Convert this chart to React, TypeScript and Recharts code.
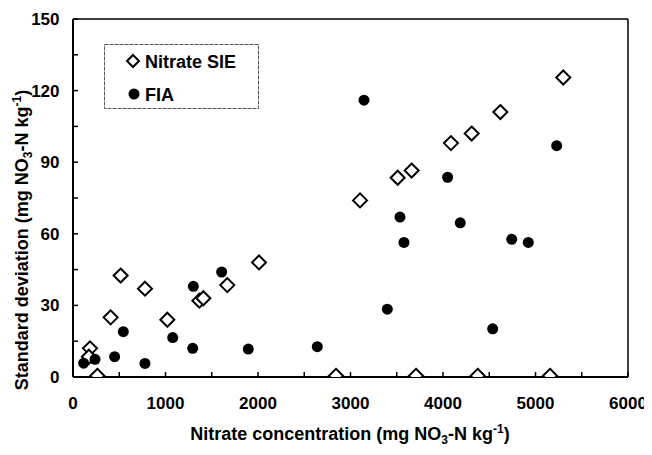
import React from 'react';
import { ScatterChart, Scatter, XAxis, YAxis, ReferenceLine, Legend } from 'recharts';

const FONT = '"Liberation Sans", Arial, Helvetica, sans-serif';

const seriesNames = ['Nitrate SIE', 'FIA'];

const nitrateSIE = [
  { x: 184, y: 12 },
  { x: 172, y: 8.5 },
  { x: 263, y: 0.5 },
  { x: 407, y: 25 },
  { x: 515, y: 42.5 },
  { x: 778, y: 37 },
  { x: 1020, y: 24 },
  { x: 1366, y: 32 },
  { x: 1409, y: 33 },
  { x: 1668, y: 38.5 },
  { x: 2011, y: 48 },
  { x: 2843, y: 0.5 },
  { x: 3103, y: 74 },
  { x: 3510, y: 83.5 },
  { x: 3661, y: 86.5 },
  { x: 3708, y: 0.5 },
  { x: 4086, y: 98 },
  { x: 4310, y: 102 },
  { x: 4375, y: 0.5 },
  { x: 4620, y: 111 },
  { x: 5157, y: 0.5 },
  { x: 5300, y: 125.5 },
];

const fia = [
  { x: 115, y: 5.8 },
  { x: 238, y: 7.4 },
  { x: 450, y: 8.5 },
  { x: 544, y: 19 },
  { x: 778, y: 5.7 },
  { x: 1078, y: 16.5 },
  { x: 1294, y: 12 },
  { x: 1301, y: 38 },
  { x: 1607, y: 44 },
  { x: 1895, y: 11.7 },
  { x: 2641, y: 12.7 },
  { x: 3146, y: 116 },
  { x: 3398, y: 28.4 },
  { x: 3535, y: 67 },
  { x: 3578, y: 56.4 },
  { x: 4050, y: 83.7 },
  { x: 4187, y: 64.6 },
  { x: 4537, y: 20.2 },
  { x: 4743, y: 57.7 },
  { x: 4922, y: 56.4 },
  { x: 5229, y: 96.9 },
];

const xTicks = [0, 500, 1000, 1500, 2000, 2500, 3000, 3500, 4000, 4500, 5000, 5500, 6000];
const yTicks = [0, 15, 30, 45, 60, 75, 90, 105, 120, 135, 150];
const xLabelStep = 1000;
const yLabelStep = 30;

const Diamond = (props: any) => {
  const { cx, cy } = props;
  if (cx == null || cy == null) return null;
  const r = 7;
  return (
    <path
      d={`M${cx},${cy - r}L${cx + r},${cy}L${cx},${cy + r}L${cx - r},${cy}Z`}
      fill="#fff"
      stroke="#000"
      strokeWidth={2}
    />
  );
};

const Dot = (props: any) => {
  const { cx, cy } = props;
  if (cx == null || cy == null) return null;
  return <circle cx={cx} cy={cy} r={5.5} fill="#000" />;
};

const XTick = (props: any) => {
  const { x, y, payload } = props;
  const v = payload.value;
  return (
    <g>
      <line x1={x} x2={x} y1={y} y2={y - 5} stroke="#000" strokeWidth={1.5} />
      {v % xLabelStep === 0 && (
        <text x={x} y={y + 32} textAnchor="middle" fontFamily={FONT} fontWeight="bold" fontSize={17} fill="#000">
          {v}
        </text>
      )}
    </g>
  );
};

const YTick = (props: any) => {
  const { x, y, payload } = props;
  const v = payload.value;
  return (
    <g>
      <line x1={x} x2={x + 5} y1={y} y2={y} stroke="#000" strokeWidth={1.5} />
      {v % yLabelStep === 0 && (
        <text x={x - 13.5} y={y + 6} textAnchor="end" fontFamily={FONT} fontWeight="bold" fontSize={17} fill="#000">
          {v}
        </text>
      )}
    </g>
  );
};

const XTitle = () => (
  <text x={342} y={432} textAnchor="middle" fontFamily={FONT} fontWeight="bold" fontSize={18} fill="#000">
    <tspan>Nitrate concentration (mg NO</tspan>
    <tspan fontSize={12} dy={4}>3</tspan>
    <tspan dy={-4}>-N kg</tspan>
    <tspan fontSize={12} dy={-7}>-1</tspan>
    <tspan dy={7}>)</tspan>
  </text>
);

const YTitle = () => (
  <text
    x={20}
    y={232}
    transform="rotate(-90, 20, 232)"
    textAnchor="middle"
    fontFamily={FONT}
    fontWeight="bold"
    fontSize={18}
    fill="#000"
  >
    <tspan>Standard deviation (mg NO</tspan>
    <tspan fontSize={12} dy={4}>3</tspan>
    <tspan dy={-4}>-N kg</tspan>
    <tspan fontSize={12} dy={-7}>-1</tspan>
    <tspan dy={7}>)</tspan>
  </text>
);

const LegendBox = () => (
  <svg width={155} height={65} style={{ display: 'block' }}>
    <rect x={0.5} y={0.5} width={154} height={64} fill="#fff" stroke="#555" strokeWidth={1} strokeDasharray="4 1" />
    <path d="M29,11L35,17L29,23L23,17Z" fill="#fff" stroke="#000" strokeWidth={2} />
    <text x={41} y={23.5} fontFamily={FONT} fontWeight="bold" fontSize={18} fill="#000">{seriesNames[0]}</text>
    <circle cx={30} cy={50} r={5.5} fill="#000" />
    <text x={41} y={56.5} fontFamily={FONT} fontWeight="bold" fontSize={18} fill="#000">{seriesNames[1]}</text>
  </svg>
);

export default function App() {
  return (
    <div style={{ width: 644, height: 439 }}>
      <ScatterChart width={644} height={439} margin={{ top: 11, right: 24, bottom: 0, left: 0 }}>
        <XAxis
          type="number"
          dataKey="x"
          domain={[0, 6000]}
          ticks={xTicks}
          interval={0}
          height={70}
          tickSize={0}
          tickMargin={0}
          tickLine={false}
          axisLine={{ stroke: '#000', strokeWidth: 2 }}
          tick={<XTick />}
          label={<XTitle />}
          allowDataOverflow
        />
        <YAxis
          type="number"
          dataKey="y"
          domain={[0, 150]}
          ticks={yTicks}
          interval={0}
          width={65}
          tickSize={0}
          tickMargin={0}
          tickLine={false}
          axisLine={{ stroke: '#000', strokeWidth: 2 }}
          tick={<YTick />}
          label={<YTitle />}
          allowDataOverflow
        />
        <ReferenceLine y={150} stroke="#000" strokeWidth={1.5} />
        <ReferenceLine x={6000} stroke="#000" strokeWidth={1.5} />
        <Legend
          layout="vertical"
          align="center"
          verticalAlign="middle"
          content={<LegendBox />}
          wrapperStyle={{ left: 96, top: 36, width: 155, height: 65 }}
        />
        <Scatter name={seriesNames[0]} data={nitrateSIE} shape={<Diamond />} isAnimationActive={false} />
        <Scatter name={seriesNames[1]} data={fia} shape={<Dot />} isAnimationActive={false} />
      </ScatterChart>
    </div>
  );
}
